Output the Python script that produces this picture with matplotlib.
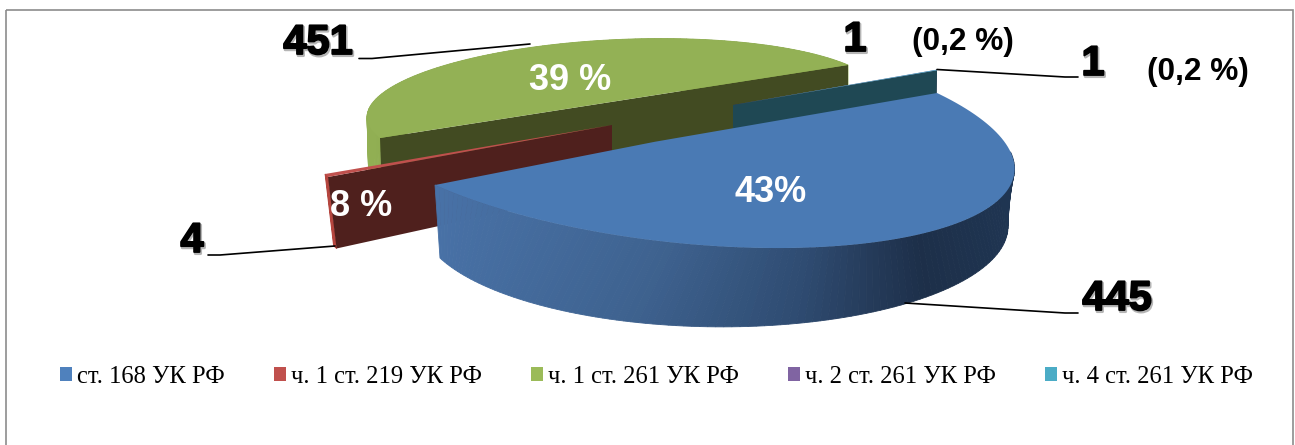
import numpy as np
import matplotlib
matplotlib.use("Agg")
import matplotlib.pyplot as plt
import matplotlib.patheffects as pe
from matplotlib.patches import Patch, Rectangle
from matplotlib.path import Path
from matplotlib.transforms import Transform, Affine2D

categories = ["ст. 168 УК РФ", "ч. 1 ст. 219 УК РФ", "ч. 1 ст. 261 УК РФ", "ч. 2 ст. 261 УК РФ", "ч. 4 ст. 261 УК РФ"]
values = [445, 4, 451, 1, 1]
percent_labels = ["43%", "8 %", "39 %", "(0,2 %)", "(0,2 %)"]
legend_colors = ["#4f81bd", "#c0504d", "#9bbb59", "#8064a2", "#4bacc6"]
top_colors = ["#4a7ab4", "#c0504d", "#93b155", "#8064a2", "#4bacc6"]

SANS = "Liberation Sans"
SERIF = "Liberation Serif"

fig = plt.figure(figsize=(12.95, 4.45), dpi=100, facecolor="white")
ax = fig.add_axes([0, 0, 1, 1])
wedges, _ = ax.pie(values, colors=top_colors, startangle=90, counterclock=False,
                   radius=1, center=(0, 0), wedgeprops=dict(linewidth=0))
ax.set_aspect("auto")
ax.set_xlim(0, 1295)
ax.set_ylim(445, 0)
ax.axis("off")


def circ(t):
    r = np.radians(t)
    return np.array([np.cos(r), np.sin(r)])


def homography(pairs):
    A, b = [], []
    for t, (X, Y) in pairs:
        x, y = circ(t)
        A.append([x, y, 1, 0, 0, 0, -x * X, -y * X]); b.append(X)
        A.append([0, 0, 0, x, y, 1, -x * Y, -y * Y]); b.append(Y)
    h = np.linalg.solve(np.array(A, float), np.array(b, float))
    return np.append(h, 1).reshape(3, 3)


def thin_map(w, tip, outer, tangent):
    m = np.radians((w.theta1 + w.theta2) / 2)
    u = np.array([np.cos(m), np.sin(m)])
    v = np.array([-np.sin(m), np.cos(m)])
    tip, outer, tangent = map(lambda a: np.array(a, float), (tip, outer, tangent))
    L = np.outer(outer - tip, u) + np.outer(tangent, v)
    return np.array([[L[0, 0], L[0, 1], tip[0]], [L[1, 0], L[1, 1], tip[1]], [0, 0, 1]])


class Hom(Transform):
    input_dims = output_dims = 2
    is_affine = False
    has_inverse = False

    def __init__(self, H):
        super().__init__()
        self.H = H

    def transform_non_affine(self, v):
        v = np.asarray(v, float)
        p = np.c_[v, np.ones(len(v))] @ self.H.T
        return p[:, :2] / p[:, 2:]

    def transform_path_non_affine(self, path):
        poly = path.to_polygons(Affine2D().scale(2000), closed_only=True)[0] / 2000
        return Path(self.transform_non_affine(poly), closed=True)


def pt(H, t):
    return Hom(H).transform_non_affine(circ(t).reshape(1, 2))[0]


def rim(t_start, t_end, Ht, Hb, colorfn, z, n=120):
    ts = np.linspace(t_start, t_end, n + 1)
    for a, b in zip(ts[:-1], ts[1:]):
        q = np.array([pt(Ht, a), pt(Ht, b), pt(Hb, b), pt(Hb, a)])
        c = colorfn(q[:, 0].mean())
        ax.fill(q[:, 0], q[:, 1], color=c, lw=0.6, zorder=z)


def face(w_t, Ht, Hb, tip_t, tip_b, color, z):
    a, b = pt(Ht, w_t), pt(Hb, w_t)
    q = np.array([tip_t, a, b, tip_b])
    ax.fill(q[:, 0], q[:, 1], color=color, lw=0, zorder=z)


def gradient(xs, cs):
    rgb = np.array([matplotlib.colors.to_rgb(c) for c in cs])
    return lambda x: tuple(np.interp(x, xs, rgb[:, i]) for i in range(3))


blue, red, green, purple, teal = wedges

# blue slice: the outer wall is only visible up to the right-hand extreme of the ellipse
b1, b2 = blue.theta2, blue.theta1
H_blue_t = homography([(b1, (937, 93)), (b2, (435, 185)), (0, (868, 243)), (45, (1010, 186))])
H_blue_b = homography([(b2, (440, 258)), (-45, (590, 316)), (0, (868, 313)), (45, (1008, 225))])
rim(blue.theta1, 62, H_blue_t, H_blue_b,
    gradient([440, 650, 800, 921, 1011], ["#4871a6", "#3e628f", "#2f4c72", "#1d2f49", "#1f3552"]), 7)
blue.set_transform(Hom(H_blue_t) + ax.transData)
blue.set_zorder(8)

# green slice
g1, g2 = green.theta2, green.theta1
gt = [(g1, (380, 138)), (g2 + 360, (848, 65)), (225, (387, 90)), (135, (690, 39))]
gb = [(g1, (382, 198)), (g2 + 360, (848, 117)), (225, (392, 142)), (135, (690, 91))]
H_green_t, H_green_b = homography(gt), homography(gb)
rim(green.theta1, green.theta2, H_green_t, H_green_b, gradient([367, 400], ["#92b054", "#8dab50"]), 1)
q = np.array([pt(H_green_t, g1), pt(H_green_t, g2), pt(H_green_b, g2), pt(H_green_b, g1)])
ax.fill(q[:, 0], q[:, 1], color="#424b22", lw=0, zorder=2)
green.set_transform(Hom(H_green_t) + ax.transData)
green.set_zorder(3)

# thin slices
for w, col, z in ((purple, "#3f3151", 3.4), (teal, "#1f4854", 4)):
    Ht = thin_map(w, (733, 105), (937, 70), (0, 100))
    Hb = thin_map(w, (733, 165), (936, 130), (0, 100))
    m = w.theta2
    face(m, Ht, Hb, (733, 105), (733, 165), col, z)
    w.set_transform(Hom(Ht) + ax.transData)
    w.set_zorder(z + 0.2)

Ht = thin_map(red, (612, 125), (326.5, 175.5), (107, 107))
Hb = thin_map(red, (612, 188), (335, 247), (107, 107))
rim(red.theta1, red.theta2, Ht, Hb, lambda x: "#b5463f", 5, n=4)
face(red.theta2, Ht, Hb, (612, 125), (612, 188), "#4f201d", 5.5)
red.set_transform(Hom(Ht) + ax.transData)
red.set_zorder(6)

# frame
ax.add_patch(Rectangle((5.5, 9.5), 1287.5, 460, fill=False, ec="#8c8c8c", lw=1.2, zorder=0.5))

# leader lines
line_kw = dict(color="black", lw=1.2, zorder=9, solid_capstyle="round")
ax.plot([359, 372, 530], [58.5, 58.5, 44], **line_kw)
ax.plot([905, 1065, 1078], [303, 313, 313], **line_kw)
ax.plot([937, 1065, 1078], [69.5, 77, 77], **line_kw)
ax.plot([208, 220, 335], [255, 255, 246], **line_kw)

# count labels
effects = [pe.Stroke(linewidth=2.0, foreground="#b5b5b5", offset=(0.8, -1.2)),
           pe.Stroke(linewidth=1.3, foreground="black"), pe.Normal()]
cnt_kw = dict(family=SANS, fontweight="bold", fontsize=30, color="black", ha="center",
              va="center", zorder=10, path_effects=effects)
ax.text(318, 43, str(values[2]), **cnt_kw)
ax.text(1117, 299, str(values[0]), **cnt_kw)
ax.text(855, 40, str(values[3]), **cnt_kw)
ax.text(1093, 64, str(values[4]), **cnt_kw)
ax.text(192, 241, str(values[1]), **cnt_kw)

# percent labels
pct_kw = dict(family=SANS, fontweight="bold", fontsize=26, color="white", ha="center",
              va="center", zorder=10)
ax.text(771, 192, percent_labels[0], **pct_kw)
ax.text(361, 206, percent_labels[1], **pct_kw)
ax.text(570, 80, percent_labels[2], **pct_kw)
small_kw = dict(family=SANS, fontweight="bold", fontsize=22.8, color="black", ha="center",
                va="center", zorder=10)
ax.text(963, 42, percent_labels[3], **small_kw)
ax.text(1198, 72, percent_labels[4], **small_kw)

# legend
handles = [Patch(facecolor=c, edgecolor="none") for c in legend_colors]
leg = ax.legend(handles, categories, ncol=5, loc="center left", bbox_to_anchor=(60 / 1295, 1 - 377 / 445),
                frameon=False, borderpad=0, borderaxespad=0, handlelength=0.49, handleheight=0.49,
                handletextpad=0.2, columnspacing=2.0,
                prop=dict(family=SERIF, size=17.7))
leg.set_zorder(10)

fig.savefig("out.png", dpi=100, facecolor="white")
